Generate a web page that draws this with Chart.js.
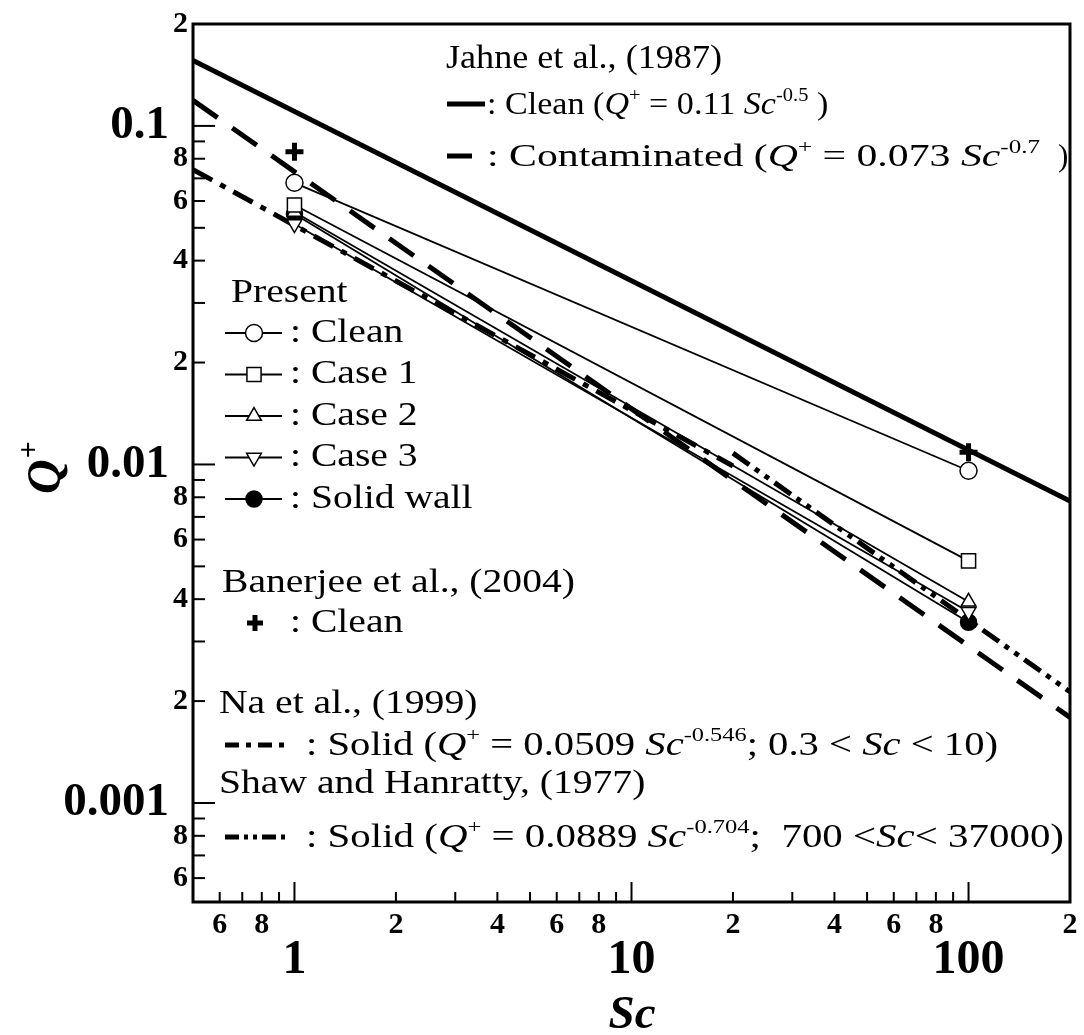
<!DOCTYPE html>
<html>
<head>
<meta charset="utf-8">
<script src="https://cdn.jsdelivr.net/npm/chart.js@4/dist/chart.umd.min.js"></script>
<style>
  html, body { margin: 0; padding: 0; background: #fff; }
  #wrap { width: 1084px; height: 1035px; }
</style>
</head>
<body>
<div id="wrap"><canvas id="qChart"></canvas></div>
<script>
// --- datos (Sc, Q+) ---
const jahneCleanSc = [0.5, 200];
const jahneCleanQ  = [0.156, 0.0078];
const jahneContSc  = [0.5, 200];
const jahneContQ   = [0.119, 0.00179];
const naSc   = [0.5, 20];
const naQ    = [0.0743, 0.0099];
const shawSc = [20, 200];
const shawQ  = [0.0108, 0.00213];

const presentSc = [1, 100];
const cleanQ = [0.0679, 0.00958];
const case1Q = [0.0584, 0.00519];
const case2Q = [0.0557, 0.00393];
const case3Q = [0.0513, 0.00367];
const solidQ = [0.0549, 0.00342];

const banerjeeSc = [1, 100];
const banerjeeQ  = [0.0839, 0.01086];

// ticks
const xTickValues = [0.6, 0.7, 0.8, 0.9, 1, 2, 3, 4, 5, 6, 7, 8, 9, 10, 20, 30, 40, 50, 60, 70, 80, 90, 100, 200];
const xTickLabels = ['6', '', '8', '', '1', '2', '', '4', '', '6', '', '8', '', '10', '2', '', '4', '', '6', '', '8', '', '100', '2'];
const xMajor = [1, 10, 100];
const yTickValues = [0.0006, 0.0007, 0.0008, 0.0009, 0.001, 0.002, 0.003, 0.004, 0.005, 0.006, 0.007, 0.008, 0.009,
                     0.01, 0.02, 0.03, 0.04, 0.05, 0.06, 0.07, 0.08, 0.09, 0.1, 0.2];
const yTickLabels = ['6', '', '8', '', '0.001', '2', '', '4', '', '6', '', '8', '',
                     '0.01', '2', '', '4', '', '6', '', '8', '', '0.1', '2'];
const yMajor = [0.001, 0.01, 0.1];

const SERIF = '"Liberation Serif", "Times New Roman", serif';

function pts(xs, ys) {
    return xs.map((x, i) => ({ x: x, y: ys[i] }));
}

// estilos de las curvas (se reutilizan en la leyenda)
const dashCont = [30, 18];
const dashNa = [22, 9, 6, 9];
const dashShaw = [20, 7, 5, 7, 5, 7];

const markers = {
    clean: { pointStyle: 'circle', radius: 8.5, rotation: 0, fill: '#fff' },
    case1: { pointStyle: 'rect', radius: 10, rotation: 0, fill: '#fff' },
    case2: { pointStyle: 'triangle', radius: 8.5, rotation: 0, fill: '#fff' },
    case3: { pointStyle: 'triangle', radius: 8.5, rotation: 180, fill: '#fff' },
    solid: { pointStyle: 'circle', radius: 8, rotation: 0, fill: '#000' }
};

function presentSet(label, ys, m) {
    return {
        label: label,
        data: pts(presentSc, ys),
        borderColor: '#000',
        borderWidth: 1.8,
        pointStyle: m.pointStyle,
        pointRadius: m.radius,
        pointRotation: m.rotation,
        pointBackgroundColor: m.fill,
        pointBorderColor: '#000',
        pointBorderWidth: 1.5
    };
}

function thickLine(label, xs, ys, dash) {
    return {
        label: label,
        data: pts(xs, ys),
        borderColor: '#000',
        borderWidth: 5,
        borderDash: dash,
        pointRadius: 0
    };
}

const datasets = [
    {
        label: 'Banerjee clean',
        data: pts(banerjeeSc, banerjeeQ),
        showLine: false,
        pointStyle: 'cross',
        pointRadius: 9,
        pointBorderWidth: 5,
        pointBorderColor: '#000'
    },
    presentSet('Clean', cleanQ, markers.clean),
    presentSet('Case 1', case1Q, markers.case1),
    presentSet('Case 2', case2Q, markers.case2),
    presentSet('Case 3', case3Q, markers.case3),
    presentSet('Solid wall', solidQ, markers.solid),
    thickLine('Jahne clean', jahneCleanSc, jahneCleanQ, []),
    thickLine('Jahne contaminated', jahneContSc, jahneContQ, dashCont),
    thickLine('Na solid', naSc, naQ, dashNa),
    thickLine('Shaw solid', shawSc, shawQ, dashShaw)
];

// texto con cursiva y superindice: runs = [[texto, 'i'|'s'|'']]
function runFont(st, size) {
    const sup = st.indexOf('s') >= 0;
    const fs = sup ? size * 0.6 : size;
    return (st.indexOf('i') >= 0 ? 'italic ' : '') + fs + 'px ' + SERIF;
}

function richWidth(ctx, runs, size) {
    ctx.save();
    let w = 0;
    runs.forEach(r => {
        ctx.font = runFont(r[1] || '', size);
        w += ctx.measureText(r[0]).width;
    });
    ctx.restore();
    return w;
}

// sx: escala horizontal fija; si se da 'right', se ajusta el ancho hasta ese borde
function rich(ctx, x, y, runs, size, sx, right) {
    if (right) sx = (right - x) / richWidth(ctx, runs, size);
    ctx.save();
    ctx.translate(x, y);
    ctx.scale(sx, 1);
    ctx.textAlign = 'left';
    ctx.textBaseline = 'alphabetic';
    let cx = 0;
    runs.forEach(r => {
        const st = r[1] || '';
        ctx.font = runFont(st, size);
        ctx.fillText(r[0], cx, st.indexOf('s') >= 0 ? -size * 0.42 : 0);
        cx += ctx.measureText(r[0]).width;
    });
    ctx.restore();
}

function sampleLine(ctx, x1, x2, y, w, dash) {
    ctx.save();
    ctx.lineWidth = w;
    ctx.setLineDash(dash);
    ctx.beginPath();
    ctx.moveTo(x1, y);
    ctx.lineTo(x2, y);
    ctx.stroke();
    ctx.restore();
}

function marker(ctx, m, x, y) {
    ctx.save();
    ctx.fillStyle = m.fill;
    ctx.strokeStyle = '#000';
    ctx.lineWidth = m.borderWidth || 1.5;
    Chart.helpers.drawPoint(ctx, {
        pointStyle: m.pointStyle, radius: m.radius, rotation: m.rotation, borderWidth: ctx.lineWidth
    }, x, y);
    ctx.restore();
}

const figurePlugin = {
    id: 'figurePlugin',
    beforeDraw(chart) {
        const ctx = chart.ctx;
        ctx.save();
        ctx.fillStyle = '#fff';
        ctx.fillRect(0, 0, chart.width, chart.height);
        ctx.restore();
    },
    afterDraw(chart) {
        const ctx = chart.ctx;
        const a = chart.chartArea;
        const xs = chart.scales.x, ys = chart.scales.y;
        ctx.save();
        ctx.strokeStyle = '#000';
        ctx.fillStyle = '#000';

        // marco
        ctx.lineWidth = 3;
        ctx.strokeRect(a.left, a.top, a.right - a.left, a.bottom - a.top);

        // ticks eje x (hacia dentro)
        ctx.lineWidth = 2;
        xTickValues.forEach((v, i) => {
            const px = xs.getPixelForValue(v);
            const major = xMajor.includes(v);
            ctx.beginPath();
            ctx.moveTo(px, a.bottom);
            ctx.lineTo(px, a.bottom - (major ? 20 : 10));
            ctx.stroke();
            const lab = xTickLabels[i];
            if (!lab) return;
            ctx.textAlign = 'center';
            ctx.textBaseline = 'middle';
            ctx.font = 'bold ' + (major ? 48 : 30) + 'px ' + SERIF;
            ctx.fillText(lab, px, major ? a.bottom + 59 : a.bottom + 23);
        });

        // ticks eje y
        yTickValues.forEach((v, i) => {
            const py = ys.getPixelForValue(v);
            const major = yMajor.includes(v);
            ctx.beginPath();
            ctx.moveTo(a.left, py);
            ctx.lineTo(a.left + (major ? 22 : 12), py);
            ctx.stroke();
            const lab = yTickLabels[i];
            if (!lab) return;
            ctx.textAlign = 'right';
            ctx.textBaseline = 'middle';
            ctx.font = 'bold ' + (major ? 47 : 30) + 'px ' + SERIF;
            ctx.fillText(lab, a.left - (major ? 24 : 5), py);
        });

        // titulos de ejes
        ctx.textAlign = 'center';
        ctx.textBaseline = 'alphabetic';
        ctx.font = 'italic bold 47px ' + SERIF;
        ctx.fillText('Sc', (a.left + a.right) / 2 + 0.5, 1028);

        ctx.save();
        ctx.translate(60, 468);
        ctx.rotate(-Math.PI / 2);
        ctx.font = 'italic bold 48px ' + SERIF;
        const qw = ctx.measureText('Q').width;
        ctx.font = 'bold 30px ' + SERIF;
        const pw = ctx.measureText('+').width;
        ctx.textAlign = 'left';
        ctx.font = 'italic bold 48px ' + SERIF;
        ctx.fillText('Q', -(qw + pw) / 2, 0);
        ctx.font = 'bold 30px ' + SERIF;
        ctx.fillText('+', -(qw + pw) / 2 + qw + 1, -22);
        ctx.restore();

        // leyenda
        const fs = 33, sx = 1.2;
        rich(ctx, 446, 68, [['Jahne et al., (1987)']], fs, 1, 722);
        sampleLine(ctx, 447, 485, 104, 5, []);
        rich(ctx, 487, 114, [[': Clean ('], ['Q', 'i'], ['+', 's'], [' = 0.11 '], ['Sc', 'i'], ['-0.5', 's'], [' )']], 31, 1.1);
        sampleLine(ctx, 447, 472, 156, 5, []);
        rich(ctx, 487, 166, [[': Contaminated ('], ['Q', 'i'], ['+', 's'], [' = 0.073 '], ['Sc', 'i'], ['-0.7', 's']], 31, 1, 1040);
        rich(ctx, 1058, 166, [[')']], 31, 1);

        rich(ctx, 231, 302, [['Present']], fs, sx);
        const rows = [['Clean', markers.clean], ['Case 1', markers.case1], ['Case 2', markers.case2],
                      ['Case 3', markers.case3], ['Solid wall', markers.solid]];
        rows.forEach((r, i) => {
            const y = 333 + i * 41.5;
            sampleLine(ctx, 225, 282, y, 1.8, []);
            marker(ctx, r[1], 254, y);
            rich(ctx, 290, y + 8.5, [[': ' + r[0]]], fs, sx);
        });

        rich(ctx, 222, 592, [['Banerjee et al., (2004)']], fs, sx);
        marker(ctx, { pointStyle: 'cross', radius: 8, rotation: 0, fill: '#000', borderWidth: 5 }, 255, 623);
        rich(ctx, 290, 632, [[': Clean']], fs, sx);

        rich(ctx, 219, 713, [['Na et al., (1999)']], fs, sx);
        sampleLine(ctx, 225, 286, 745, 5, [14, 7, 5, 7]);
        rich(ctx, 306, 755, [[': Solid ('], ['Q', 'i'], ['+', 's'], [' = 0.0509 '], ['Sc', 'i'], ['-0.546', 's'],
                             ['; 0.3 < '], ['Sc', 'i'], [' < 10)']], fs, 1, 998);

        rich(ctx, 219, 793, [['Shaw and Hanratty, (1977)']], fs, sx);
        sampleLine(ctx, 225, 290, 837, 5, [14, 5, 4, 5, 4, 5]);
        rich(ctx, 306, 847, [[': Solid ('], ['Q', 'i'], ['+', 's'], [' = 0.0889 '], ['Sc', 'i'], ['-0.704', 's'],
                             [';  700 <'], ['Sc', 'i'], ['< 37000)']], fs, 1, 1064);

        ctx.restore();
    }
};

const config = {
    type: 'line',
    data: { datasets: datasets },
    options: {
        responsive: true,
        maintainAspectRatio: false,
        animation: false,
        devicePixelRatio: 1,
        layout: { padding: { left: 193, top: 24, right: 12, bottom: 133 } },
        plugins: { legend: { display: false }, tooltip: { enabled: false } },
        elements: { line: { tension: 0 } },
        scales: {
            x: { type: 'logarithmic', min: 0.5, max: 200, display: false },
            y: { type: 'logarithmic', min: 0.00051, max: 0.2, display: false }
        }
    },
    plugins: [figurePlugin]
};

new Chart(document.getElementById('qChart'), config);
</script>
</body>
</html>
